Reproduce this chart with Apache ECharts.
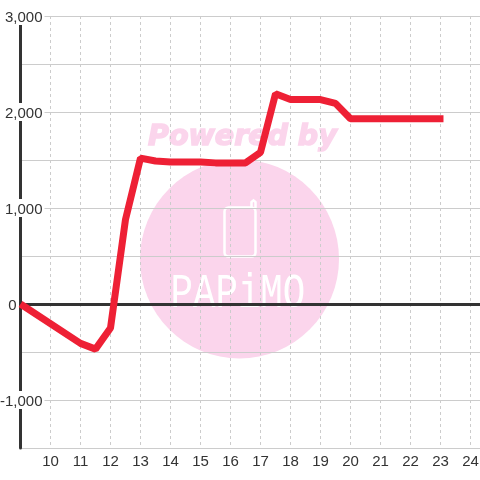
<!DOCTYPE html>
<html><head><meta charset="utf-8">
<style>html,body{margin:0;padding:0;background:#fff}#c{width:480px;height:480px}</style>
<script src="https://cdn.jsdelivr.net/npm/echarts@6/dist/echarts.min.js"></script>
</head><body><div id="c"></div>
<script>
var hours  = [9,11,11.5,12,12.5,13,13.5,14,15,15.5,16,16.5,17,17.5,18,19,19.5,20,23.1];
var values = [0,-410,-470,-250,880,1520,1490,1480,1480,1470,1470,1470,1580,2190,2130,2130,2090,1930,1930];
var yTicks = {min:-1500,max:3000,interval:500};
var labelled = [-1000,0,1000,2000,3000];
var wm = '#fbd5ec';
var chart = echarts.init(document.getElementById('c'),null,{renderer:'canvas'});
chart.setOption({
  animation:false,
  backgroundColor:'#fff',
  grid:{left:20.5,right:0,top:16,bottom:32,containLabel:false,outerBoundsMode:'none'},
  xAxis:{
    type:'value',min:9,max:24.317,interval:1,position:'bottom',
    axisLine:{show:false},axisTick:{show:false},
    axisLabel:{color:'#333',fontSize:15,fontFamily:'Liberation Sans',margin:6,showMinLabel:false,showMaxLabel:false},
    splitLine:{show:true,showMinLine:false,showMaxLine:false,lineStyle:{color:'#ccc',type:[3,3],width:1}}
  },
  yAxis:{
    type:'value',min:yTicks.min,max:yTicks.max,interval:yTicks.interval,
    axisLine:{show:true,onZero:false,lineStyle:{color:'#333',width:3}},
    axisTick:{show:false},
    axisLabel:{color:'#333',fontSize:15,fontFamily:'Liberation Sans',margin:-24,
      rich:{
        a:{color:'#333',fontSize:15,fontFamily:'Liberation Sans',backgroundColor:'#fff',padding:[3,2,0,1],lineHeight:16},
        z:{color:'#333',fontSize:15,fontFamily:'Liberation Sans',padding:[3,28,0,0],lineHeight:16}
      },
      formatter:function(v){
        if(labelled.indexOf(v)<0) return '';
        return v===0 ? '{z|0}' : '{a|'+v.toLocaleString('en-US')+'}';
      }},
    splitLine:{show:true,lineStyle:{color:'#ccc',width:1}}
  },
  graphic:[
    {type:'circle',z:-10,shape:{cx:239.5,cy:259,r:99.5},style:{fill:wm}},
    {type:'text',z:-10,x:148,y:123,style:{text:'Powered by',fill:wm,stroke:wm,lineWidth:1.5,font:'italic bold 28.5px "DejaVu Sans"'}},
    {type:'rect',z:-9,shape:{x:224.5,y:207.5,width:31,height:49,r:4},style:{fill:'none',stroke:'#fff',lineWidth:2.5}},
    {type:'polyline',z:-9,shape:{points:[[251.5,208],[251.5,202],[253.5,200.3],[255.5,202],[255.5,208]]},style:{fill:'none',stroke:'#fff',lineWidth:2.5}},
    {type:'text',z:-9,x:170.5,y:270,scaleX:0.78,style:{text:'PAPiMO',fill:'#fff',stroke:wm,lineWidth:0.5,font:'48px "Liberation Mono"'}}
  ],
  series:[{
    type:'line',data:hours.map(function(h,i){return [h,values[i]];}),
    showSymbol:false,symbol:'none',clip:false,z:5,
    lineStyle:{color:'#ee2035',width:7,cap:'butt',join:'bevel'}
  },{
    type:'line',data:[],z:1,
    markLine:{silent:true,symbol:'none',animation:false,label:{show:false},
      lineStyle:{color:'#333',width:3,type:'solid'},data:[{yAxis:0}]}
  }]
});
</script></body></html>
